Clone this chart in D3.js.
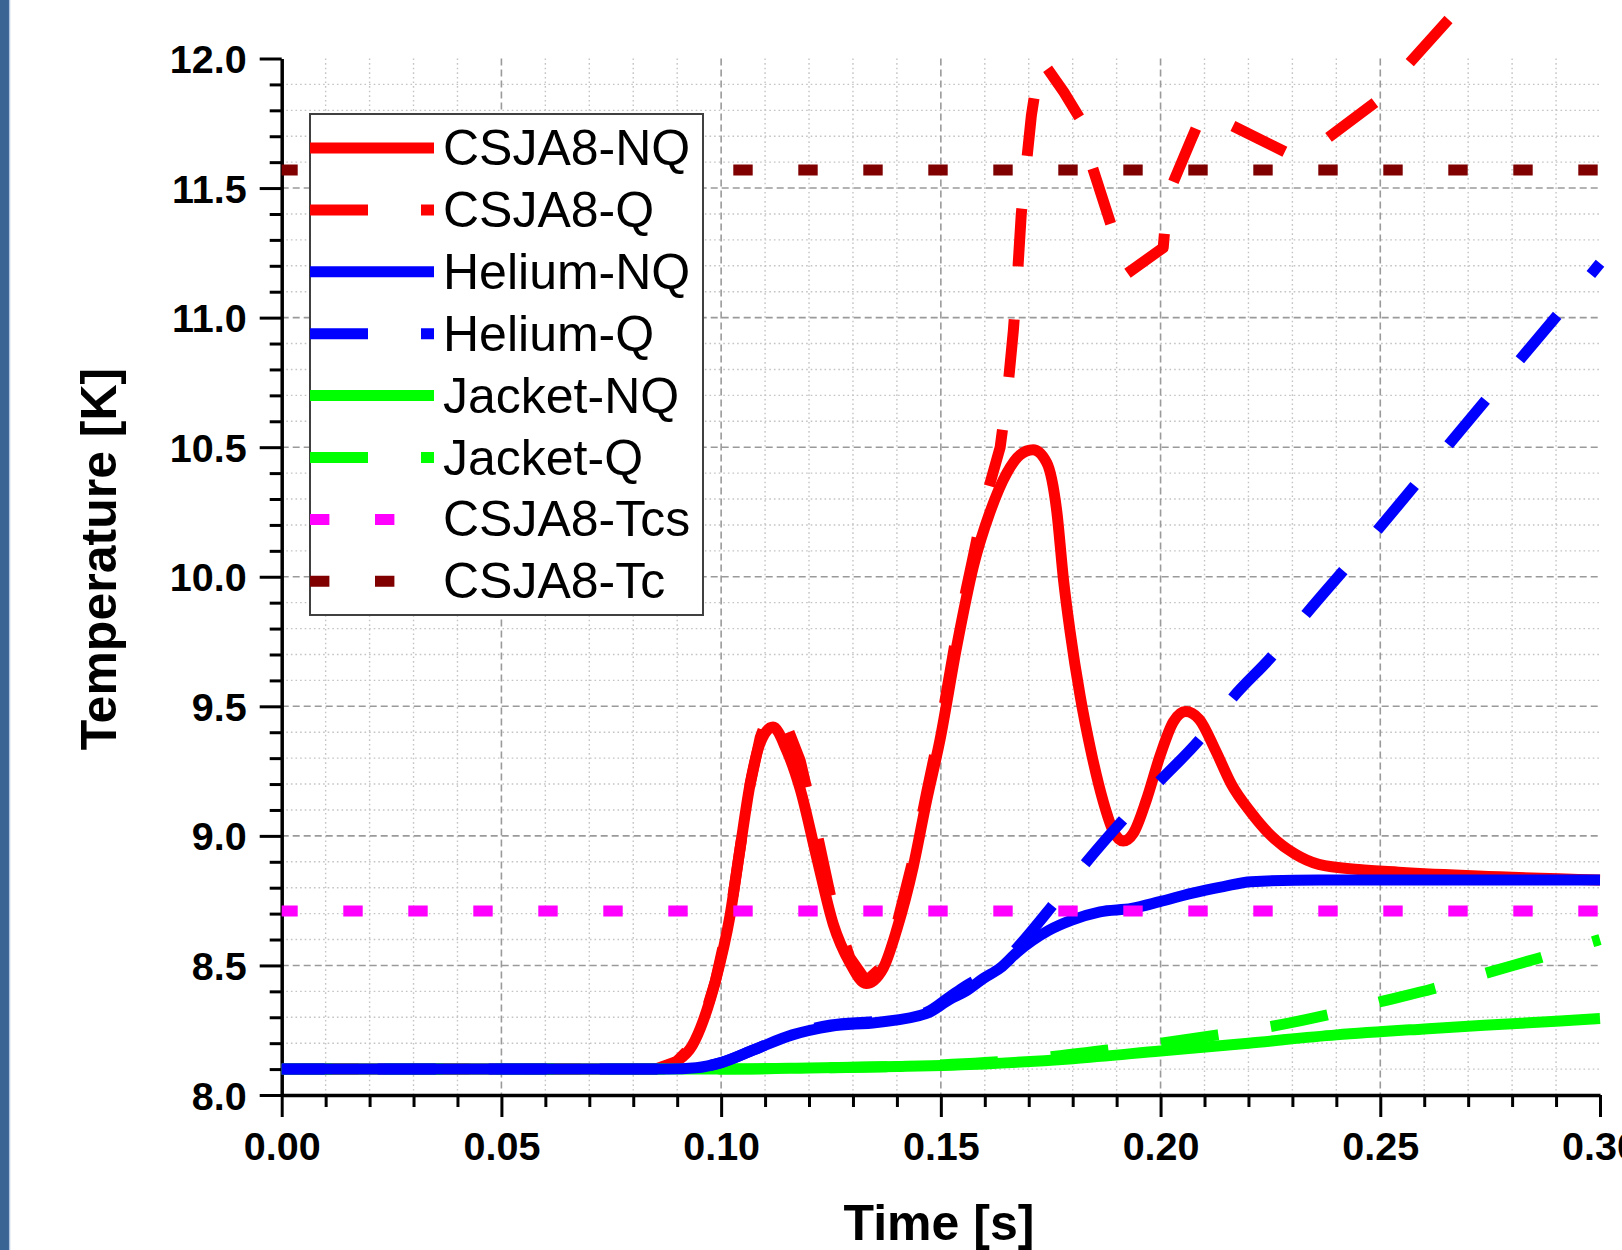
<!DOCTYPE html>
<html>
<head>
<meta charset="utf-8">
<script src="https://cdn.jsdelivr.net/npm/d3@7"></script>
<style>
  html, body { margin: 0; padding: 0; background: #fff; }
  svg { display: block; font-family: "Liberation Sans", Arial, sans-serif; }
</style>
</head>
<body>
<svg id="chart"></svg>
<script>
// Temperature traces [time s, temperature K]
const csja8NQ = [[0, 8.10], [0.080, 8.10], [0.085, 8.10], [0.0899, 8.13], [0.0934, 8.19], [0.0960, 8.29], [0.0987, 8.44],
  [0.1020, 8.69], [0.1043, 8.95], [0.1066, 9.20], [0.1089, 9.36], [0.1118, 9.42], [0.1149, 9.33], [0.1180, 9.18],
  [0.1217, 8.92], [0.1255, 8.66], [0.1293, 8.51], [0.1330, 8.43], [0.1369, 8.49], [0.1400, 8.64], [0.1437, 8.88],
  [0.1468, 9.14], [0.1498, 9.37], [0.1536, 9.73], [0.1574, 10.04], [0.1612, 10.25], [0.1650, 10.40], [0.1680, 10.47],
  [0.1710, 10.49], [0.1741, 10.44], [0.1764, 10.25], [0.1779, 9.99], [0.1794, 9.79], [0.1817, 9.54], [0.1840, 9.34],
  [0.1870, 9.13], [0.1892, 9.02], [0.1915, 8.98], [0.1938, 9.01], [0.1968, 9.14], [0.1999, 9.31], [0.2029, 9.44],
  [0.2057, 9.48], [0.2088, 9.45], [0.2125, 9.33], [0.2161, 9.20], [0.2206, 9.09], [0.2252, 9.00], [0.2306, 8.93],
  [0.2360, 8.89], [0.2451, 8.87], [0.2542, 8.86], [0.2723, 8.845], [0.3000, 8.83]];

const csja8Q = [[0, 8.10], [0.080, 8.10], [0.085, 8.10], [0.0899, 8.13], [0.0934, 8.19], [0.0960, 8.29], [0.0987, 8.44],
  [0.1020, 8.69], [0.1043, 8.95], [0.1066, 9.20], [0.1089, 9.38], [0.1111, 9.48], [0.1125, 9.49], [0.1150, 9.42],
  [0.1180, 9.29], [0.1217, 9.02], [0.1255, 8.72], [0.1293, 8.53], [0.1330, 8.44], [0.1369, 8.50], [0.1400, 8.66],
  [0.1437, 8.91], [0.1468, 9.17], [0.1498, 9.41], [0.1536, 9.78], [0.1574, 10.08], [0.1597, 10.27], [0.1635, 10.50],
  [0.1652, 10.72], [0.1665, 10.95], [0.1675, 11.18], [0.1683, 11.40], [0.1695, 11.60], [0.1706, 11.78], [0.1726, 12.00],
  [0.1743, 11.96], [0.1780, 11.87], [0.1816, 11.77], [0.1832, 11.69], [0.1845, 11.58], [0.1885, 11.37], [0.1924, 11.17],
  [0.2006, 11.27], [0.2016, 11.47], [0.2068, 11.68], [0.2098, 11.80], [0.2152, 11.75], [0.2283, 11.64], [0.2314, 11.61],
  [0.2378, 11.69], [0.2488, 11.83], [0.2565, 11.98], [0.2655, 12.15], [0.2800, 12.42]];

const heliumNQ = [[0, 8.10], [0.088, 8.10], [0.0943, 8.105], [0.1000, 8.125], [0.1074, 8.174], [0.1162, 8.232],
  [0.1250, 8.265], [0.1354, 8.28], [0.1468, 8.315], [0.1521, 8.37], [0.1556, 8.40], [0.1597, 8.45], [0.1635, 8.49],
  [0.1673, 8.55], [0.1745, 8.635], [0.1798, 8.675], [0.1862, 8.707], [0.1934, 8.72], [0.1998, 8.746], [0.2070, 8.778],
  [0.2143, 8.804], [0.2206, 8.823], [0.2360, 8.83], [0.3000, 8.83]];

const heliumQ = [[0, 8.10], [0.088, 8.10], [0.0943, 8.105], [0.1000, 8.125], [0.1074, 8.174], [0.1162, 8.235],
  [0.1250, 8.27], [0.1354, 8.285], [0.1468, 8.32], [0.1521, 8.38], [0.1556, 8.42], [0.1597, 8.46], [0.1635, 8.50],
  [0.1673, 8.567], [0.1752, 8.727], [0.1832, 8.90], [0.1911, 9.055], [0.1997, 9.21], [0.2088, 9.37], [0.2166, 9.537],
  [0.2256, 9.698], [0.2333, 9.86], [0.2419, 10.03], [0.2749, 10.70], [0.2913, 11.03], [0.3000, 11.21]];

const jacketNQ = [[0, 8.10], [0.100, 8.10], [0.120, 8.104], [0.140, 8.11], [0.160, 8.12], [0.180, 8.14], [0.200, 8.17],
  [0.220, 8.20], [0.240, 8.232], [0.260, 8.255], [0.280, 8.275], [0.300, 8.295]];

const jacketQ = [[0, 8.10], [0.100, 8.10], [0.120, 8.104], [0.140, 8.11], [0.160, 8.125], [0.175, 8.148], [0.188, 8.174],
  [0.200, 8.20], [0.213, 8.232], [0.225, 8.264], [0.238, 8.309], [0.250, 8.36], [0.262, 8.41], [0.274, 8.47],
  [0.286, 8.528], [0.298, 8.59], [0.300, 8.60]];

const csja8Tcs = [[0, 8.71], [0.30, 8.71]];
const csja8Tc = [[0, 11.57], [0.30, 11.57]];

const seriesNames = ['CSJA8-NQ', 'CSJA8-Q', 'Helium-NQ', 'Helium-Q', 'Jacket-NQ', 'Jacket-Q', 'CSJA8-Tcs', 'CSJA8-Tc'];

const xMajor = [0, 0.05, 0.10, 0.15, 0.20, 0.25, 0.30];
const xTickLabels = ['0.00', '0.05', '0.10', '0.15', '0.20', '0.25', '0.30'];
const yMajor = [8, 8.5, 9, 9.5, 10, 10.5, 11, 11.5, 12];
const yTickLabels = ['8.0', '8.5', '9.0', '9.5', '10.0', '10.5', '11.0', '11.5', '12.0'];

// ---- layout / styles ----
const W = 1622, H = 1250;
const FONT = '"Liberation Sans", Arial, sans-serif';
const LONG_DASH = [58, 53];
const DOT = [19.4, 45.6];

const styles = [
  { data: csja8NQ, color: '#ff0000' },
  { data: csja8Q, color: '#ff0000', dash: LONG_DASH, anchor: [0.1743, 11.96], straight: true },
  { data: heliumNQ, color: '#0000ff' },
  { data: heliumQ, color: '#0000ff', dash: LONG_DASH, anchor: [0.1997, 9.21] },
  { data: jacketNQ, color: '#00ff00' },
  { data: jacketQ, color: '#00ff00', dash: LONG_DASH, anchor: [0.2497, 8.36] },
  { data: csja8Tcs, color: '#ff00ff', dash: DOT, offset: 3.4 },
  { data: csja8Tc, color: '#800000', dash: DOT, offset: 3.4 },
];
// helium traces sit on top of the jacket ones in the original
const drawOrder = [0, 1, 4, 5, 2, 3, 6, 7];

const svg = d3.select('#chart').attr('width', W).attr('height', H);
svg.append('rect').attr('width', W).attr('height', H).attr('fill', '#fff');

// slide edge on the left
svg.append('rect').attr('x', 0).attr('y', 0).attr('width', 9).attr('height', H).attr('fill', '#3a6494');
svg.append('line').attr('x1', 9.6).attr('x2', 9.6).attr('y1', 0).attr('y2', H)
  .attr('stroke', '#b3c7e3').attr('stroke-width', 1.3);

const x = d3.scaleLinear().domain([0, 0.30]).range([281.7, 1600]);
const y = d3.scaleLinear().domain([8, 12]).range([1095, 58.5]);

// ---- grid ----
const xMinor = d3.range(1, 30).filter((i) => i % 5 !== 0).map((i) => i / 100);
const yMinor = d3.range(81, 120).filter((i) => i % 5 !== 0).map((i) => i / 10);
const grid = svg.append('g');
grid.selectAll('.vminor').data(xMinor).join('line')
  .attr('x1', (d) => x(d)).attr('x2', (d) => x(d)).attr('y1', y(12)).attr('y2', y(8))
  .attr('stroke', '#c4c4c4').attr('stroke-width', 1.4).attr('stroke-dasharray', '1.6,3');
grid.selectAll('.hminor').data(yMinor).join('line')
  .attr('x1', x(0)).attr('x2', x(0.30)).attr('y1', (d) => y(d)).attr('y2', (d) => y(d))
  .attr('stroke', '#c4c4c4').attr('stroke-width', 1.4).attr('stroke-dasharray', '1.6,3');
grid.selectAll('.vmajor').data(xMajor.slice(1, -1)).join('line')
  .attr('x1', (d) => x(d)).attr('x2', (d) => x(d)).attr('y1', y(12)).attr('y2', y(8))
  .attr('stroke', '#9a9a9a').attr('stroke-width', 1.6).attr('stroke-dasharray', '7,4');
grid.selectAll('.hmajor').data(yMajor.slice(1, -1)).join('line')
  .attr('x1', x(0)).attr('x2', x(0.30)).attr('y1', (d) => y(d)).attr('y2', (d) => y(d))
  .attr('stroke', '#9a9a9a').attr('stroke-width', 1.6).attr('stroke-dasharray', '7,4');

// ---- axes ----
function styleAxis(g) {
  g.attr('font-family', FONT).attr('font-size', 39.5).attr('font-weight', 'bold');
  g.select('.domain').attr('stroke', '#000').attr('stroke-width', 3.5);
  g.selectAll('.tick line').attr('stroke', '#000').attr('stroke-width', 3);
  g.selectAll('.tick text').attr('fill', '#000');
}

const gxMinor = svg.append('g').attr('transform', `translate(0,${y(8)})`)
  .call(d3.axisBottom(x).tickValues(xMinor).tickSize(12).tickFormat(''));
gxMinor.select('.domain').remove();
gxMinor.selectAll('.tick line').attr('stroke', '#000').attr('stroke-width', 3);

const gyMinor = svg.append('g').attr('transform', `translate(${x(0)},0)`)
  .call(d3.axisLeft(y).tickValues(yMinor).tickSize(12).tickFormat(''));
gyMinor.select('.domain').remove();
gyMinor.selectAll('.tick line').attr('stroke', '#000').attr('stroke-width', 3);

const gx = svg.append('g').attr('transform', `translate(0,${y(8)})`)
  .call(d3.axisBottom(x).tickValues(xMajor).tickSize(22).tickSizeOuter(0)
    .tickFormat((d) => xTickLabels[xMajor.indexOf(d)]));
styleAxis(gx);
gx.selectAll('.tick text').attr('y', 65).attr('dy', null);

const gy = svg.append('g').attr('transform', `translate(${x(0)},0)`)
  .call(d3.axisLeft(y).tickValues(yMajor).tickSize(22).tickSizeOuter(0).tickPadding(13)
    .tickFormat((d) => yTickLabels[yMajor.indexOf(d)]));
styleAxis(gy);
gy.selectAll('.tick text').attr('dy', '0.355em');

// ---- series ----
const smooth = d3.line().x((d) => x(d[0])).y((d) => y(d[1])).curve(d3.curveMonotoneX);
const straight = d3.line().x((d) => x(d[0])).y((d) => y(d[1]));

function lengthAt(node, px, py) {
  const total = node.getTotalLength();
  let best = 0, bestD = Infinity;
  for (let s = 0; s <= total; s += 0.5) {
    const p = node.getPointAtLength(s);
    const dd = (p.x - px) ** 2 + (p.y - py) ** 2;
    if (dd < bestD) { bestD = dd; best = s; }
  }
  return best;
}

const plot = svg.append('g');
drawOrder.forEach((k) => {
  const s = styles[k];
  const path = plot.append('path')
    .attr('d', (s.straight ? straight : smooth)(s.data))
    .attr('fill', 'none')
    .attr('stroke', s.color)
    .attr('stroke-width', 11)
    .attr('stroke-linejoin', 'round');
  if (s.dash) {
    path.attr('stroke-dasharray', s.dash.join(','));
    let off = s.offset || 0;
    if (s.anchor) {
      // line up the dash phase with a dash start seen in the reference
      const period = s.dash[0] + s.dash[1];
      const L0 = lengthAt(path.node(), x(s.anchor[0]), y(s.anchor[1]));
      off = period - (L0 % period);
    }
    path.attr('stroke-dashoffset', off);
  }
});

// ---- legend ----
const legend = svg.append('g');
legend.append('rect').attr('x', 310).attr('y', 114).attr('width', 393).attr('height', 501)
  .attr('fill', '#fff').attr('stroke', '#404040').attr('stroke-width', 2);
seriesNames.forEach((name, i) => {
  const ry = 148 + i * 61.9;
  const s = styles[i];
  const l = legend.append('line').attr('x1', 310).attr('x2', 434).attr('y1', ry).attr('y2', ry)
    .attr('stroke', s.color).attr('stroke-width', 11);
  if (s.dash) l.attr('stroke-dasharray', s.dash.join(','));
  legend.append('text').attr('x', 443).attr('y', ry + 17)
    .attr('font-family', FONT).attr('font-size', 50).attr('fill', '#000')
    .text(name);
});

// ---- axis titles ----
svg.append('text')
  .attr('transform', 'translate(116,559) rotate(-90)')
  .attr('text-anchor', 'middle')
  .attr('font-family', FONT).attr('font-size', 50).attr('font-weight', 'bold')
  .text('Temperature [K]');
svg.append('text')
  .attr('x', 939).attr('y', 1240)
  .attr('text-anchor', 'middle')
  .attr('font-family', FONT).attr('font-size', 50).attr('font-weight', 'bold')
  .text('Time [s]');
</script>
</body>
</html>
